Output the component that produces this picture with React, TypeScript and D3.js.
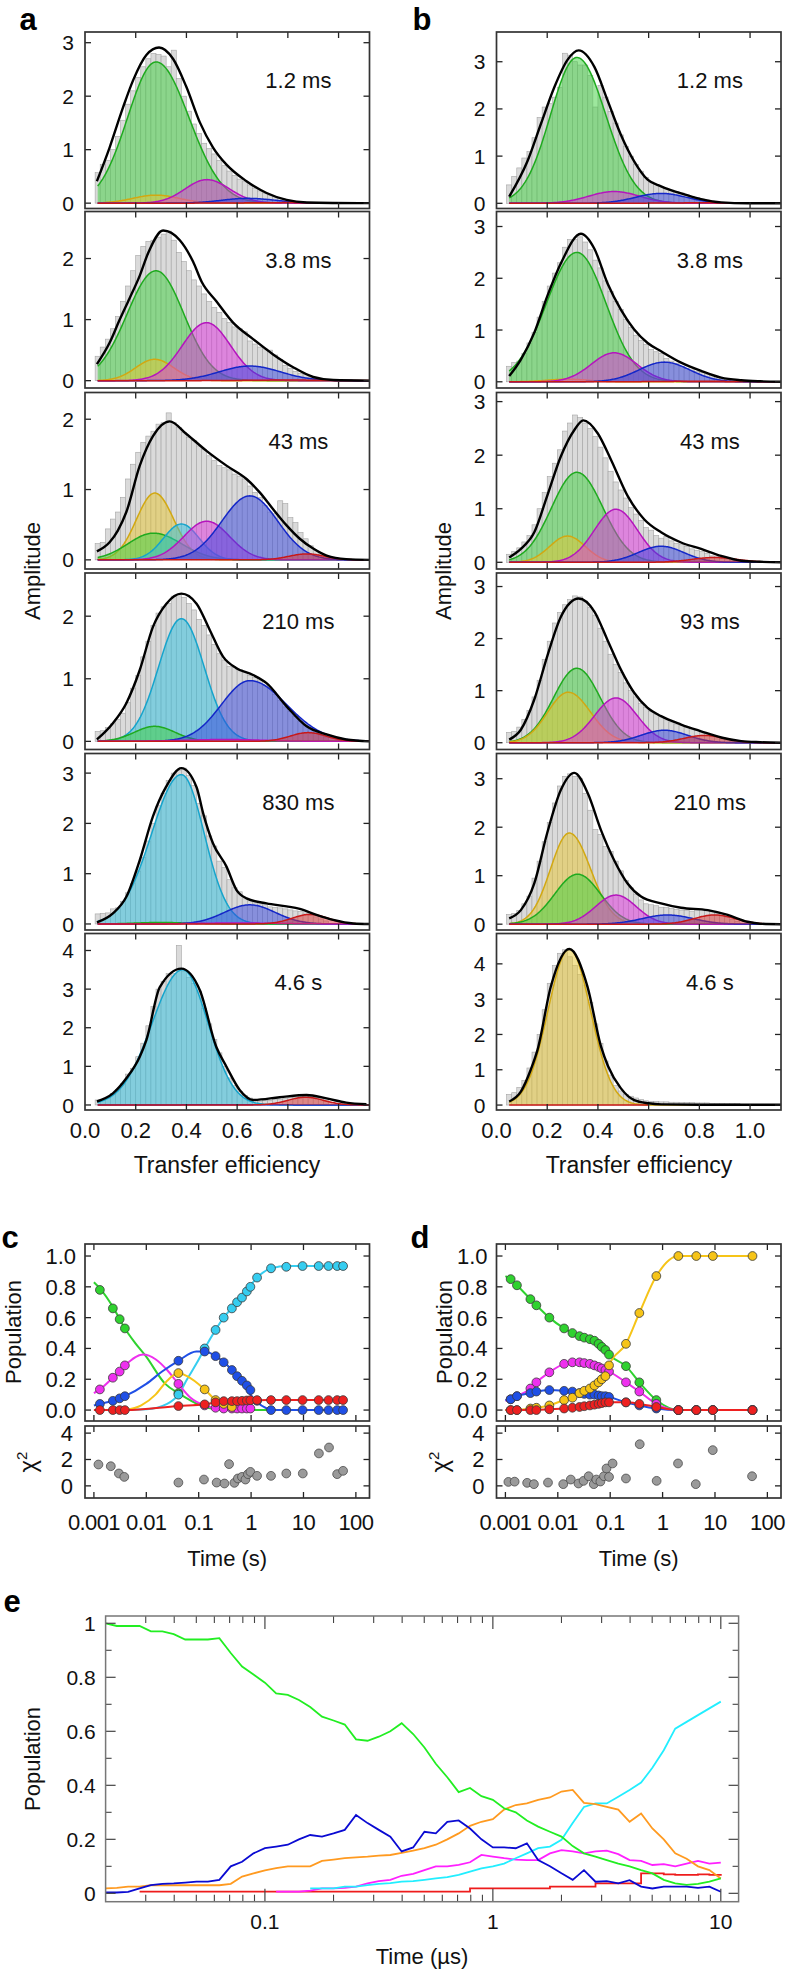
import React from "react";
import * as d3 from "d3";

const FONT = "'Liberation Sans', Arial, Helvetica, sans-serif";

// ================= Panels a & b : transfer-efficiency histograms =================
const binStart = 0.04;
const binWidth = 0.02;
const efficiencyTicks = [0, 0.2, 0.4, 0.6, 0.8, 1.0];
const efficiencyMax = 1.122;

const timeLabelsA = ["1.2 ms", "3.8 ms", "43 ms", "210 ms", "830 ms", "4.6 s"];
const timeLabelsB = ["1.2 ms", "3.8 ms", "43 ms", "93 ms", "210 ms", "4.6 s"];

const yRangeA = [[-0.1, 3.2], [-0.12, 2.77], [-0.13, 2.38], [-0.13, 2.69], [-0.12, 3.39], [-0.13, 4.44]];
const yRangeB = [[-0.11, 3.63], [-0.12, 3.29], [-0.125, 3.17], [-0.13, 3.26], [-0.12, 3.52], [-0.14, 4.86]];
const yTicksA = [[0, 1, 2, 3], [0, 1, 2], [0, 1, 2], [0, 1, 2], [0, 1, 2, 3], [0, 1, 2, 3, 4]];
const yTicksB = [[0, 1, 2, 3], [0, 1, 2, 3], [0, 1, 2, 3], [0, 1, 2, 3], [0, 1, 2, 3], [0, 1, 2, 3, 4]];

// histogram bar heights, bins of 0.02 starting at E = 0.04
const histA1 = [0.57,0.72,0.8,1.0,1.25,1.55,1.85,2.1,2.35,2.55, 2.7,2.8,2.78,2.75,2.55,2.86,2.33,2.0,1.72,1.48, 1.3,1.12,1.02,0.92,0.8,0.7,0.6,0.52,0.45,0.4, 0.34,0.28,0.23,0.19,0.15,0.12,0.09,0.07,0.05,0.03, 0.02,0.01,0.01,0,0,0];
const histA2 = [0.4,0.55,0.68,0.85,1.05,1.3,1.55,1.8,2.05,2.2, 2.28,2.3,2.35,2.4,2.45,2.3,2.1,1.95,1.8,1.65, 1.55,1.42,1.3,1.2,1.12,1.02,0.95,0.88,0.85,0.8, 0.65,0.6,0.55,0.52,0.5,0.42,0.35,0.25,0.2,0.15, 0.12,0.1,0.06,0.04,0.02,0.01];
const histA3 = [0.23,0.25,0.44,0.58,0.68,0.89,1.15,1.36,1.53,1.67, 1.76,1.83,1.93,1.95,2.09,1.95,1.88,1.81,1.74,1.7, 1.62,1.57,1.48,1.41,1.34,1.31,1.28,1.22,1.19,1.15, 1.05,0.96,0.89,0.77,0.68,0.66,0.84,0.8,0.6,0.53, 0.39,0.3,0.2,0.13,0.07,0.04];
const histA4 = [0.16,0.17,0.22,0.28,0.35,0.45,0.62,0.85,1.05,1.35, 1.6,1.85,2.05,2.15,2.2,2.32,2.35,2.3,2.2,2.1, 1.95,1.85,1.7,1.55,1.4,1.3,1.2,1.18,1.15,1.1, 1.05,1.02,0.98,0.9,0.85,0.75,0.65,0.55,0.48,0.4, 0.32,0.25,0.2,0.14,0.1,0.06];
const histA5 = [0.2,0.21,0.22,0.3,0.32,0.45,0.62,0.8,1.05,1.32, 1.65,2.0,2.35,2.6,2.85,3.0,3.05,3.1,2.95,2.75, 2.4,2.15,1.75,1.55,1.25,1.12,0.88,0.72,0.64,0.5, 0.46,0.42,0.4,0.38,0.34,0.33,0.32,0.3,0.28,0.26, 0.25,0.22,0.18,0.14,0.1,0.06];
const histA6 = [0.13,0.14,0.2,0.3,0.4,0.55,0.8,0.95,1.25,1.6, 2.05,2.55,3.0,3.2,3.4,3.4,4.13,3.45,3.3,3.15, 2.95,2.5,2.1,1.7,1.35,1.0,0.7,0.5,0.35,0.25, 0.18,0.12,0.1,0.12,0.12,0.14,0.15,0.17,0.19,0.2, 0.22,0.23,0.22,0.2,0.17,0.13];
const histB1 = [0.39,0.57,0.75,0.96,1.1,1.39,1.82,2.04,2.11,2.25, 2.46,3.18,3.14,3.0,2.93,2.93,2.71,2.04,2.5,2.25, 1.95,1.7,1.45,1.2,1.0,0.82,0.68,0.55,0.45,0.4, 0.36,0.32,0.28,0.25,0.22,0.18,0.15,0.12,0.09,0.07, 0.05,0.03,0.02,0.01,0.01,0];
const histB2 = [0.3,0.37,0.4,0.55,0.75,0.95,1.25,1.55,1.85,2.1, 2.3,2.6,2.75,2.75,2.8,2.7,2.55,2.35,2.2,1.95, 1.75,1.55,1.4,1.2,1.05,0.9,0.8,0.72,0.62,0.58, 0.55,0.45,0.4,0.36,0.3,0.26,0.23,0.2,0.18,0.15, 0.12,0.1,0.07,0.05,0.03,0.02];
const histB3 = [0.15,0.2,0.27,0.38,0.5,0.7,1.0,1.3,1.6,1.85, 2.1,2.45,2.6,2.75,2.7,2.6,2.5,2.35,2.15,1.95, 1.7,1.5,1.35,1.2,1.02,0.9,0.78,0.65,0.6,0.5, 0.45,0.48,0.4,0.35,0.34,0.3,0.25,0.22,0.2,0.17, 0.12,0.1,0.07,0.05,0.03,0.02];
const histB4 = [0.2,0.22,0.3,0.45,0.62,0.88,1.2,1.6,1.95,2.3, 2.5,2.65,2.75,2.82,2.8,2.72,2.6,2.45,2.2,1.95, 1.7,1.5,1.35,1.15,1.0,0.88,0.75,0.68,0.6,0.55, 0.5,0.44,0.4,0.36,0.33,0.3,0.27,0.24,0.21,0.17, 0.13,0.1,0.07,0.05,0.03,0.02];
const histB5 = [0.2,0.22,0.28,0.42,0.58,0.95,1.3,1.7,2.1,2.5, 2.85,3.05,3.1,3.05,3.0,2.7,2.35,1.95,1.85,1.6, 1.5,1.3,1.1,0.9,0.75,0.62,0.5,0.42,0.4,0.38, 0.35,0.34,0.32,0.3,0.29,0.28,0.27,0.28,0.3,0.28, 0.26,0.22,0.18,0.14,0.1,0.06];
const histB6 = [0.3,0.35,0.5,0.7,1.05,1.5,2.0,2.7,3.45,3.95, 4.3,4.4,4.2,3.95,3.7,3.4,2.9,2.3,1.75,1.25, 0.85,0.55,0.4,0.3,0.25,0.2,0.16,0.12,0.1,0.1, 0.09,0.09,0.08,0.08,0.07,0.07,0.07,0.06,0.06,0.06, 0.05,0.05,0.05,0.04,0.04,0.04];

// total fit (black), read as [E, amplitude]
const fitA1 = [[0.047,0.41],[0.097,1.04],[0.15,1.79],[0.19,2.3],[0.242,2.77],[0.292,2.91],[0.347,2.7],[0.4,2.17],[0.453,1.51],[0.505,1.04],[0.558,0.72],[0.637,0.41],[0.716,0.19],[0.795,0.06],[0.874,0.013],[1.122,0]];
const fitA2 = [[0.047,0.27],[0.097,0.62],[0.137,1.0],[0.176,1.35],[0.216,1.72],[0.25,2.1],[0.308,2.46],[0.374,2.3],[0.426,1.95],[0.46,1.62],[0.518,1.3],[0.584,0.95],[0.663,0.68],[0.742,0.43],[0.821,0.22],[0.9,0.06],[0.979,0.01],[1.122,0]];
const fitA3 = [[0.047,0.12],[0.097,0.25],[0.13,0.42],[0.163,0.68],[0.216,1.34],[0.268,1.76],[0.334,1.97],[0.4,1.79],[0.479,1.55],[0.558,1.34],[0.637,1.15],[0.689,0.96],[0.742,0.72],[0.795,0.49],[0.847,0.3],[0.9,0.16],[0.953,0.06],[1.03,0.01],[1.122,0]];
const fitA4 = [[0.047,0.03],[0.11,0.29],[0.163,0.61],[0.216,1.14],[0.268,1.83],[0.321,2.2],[0.38,2.36],[0.44,2.2],[0.492,1.78],[0.545,1.35],[0.597,1.17],[0.663,1.06],[0.716,0.93],[0.795,0.56],[0.874,0.24],[0.953,0.11],[1.03,0.03],[1.122,0]];
const fitA5 = [[0.047,0.03],[0.11,0.21],[0.163,0.54],[0.216,1.27],[0.268,2.14],[0.32,2.73],[0.38,3.1],[0.44,2.72],[0.466,2.2],[0.505,1.6],[0.558,1.14],[0.597,0.68],[0.637,0.51],[0.716,0.41],[0.795,0.35],[0.847,0.3],[0.913,0.18],[0.979,0.08],[1.058,0.01],[1.122,0]];
const fitA6 = [[0.047,0.09],[0.11,0.3],[0.163,0.69],[0.216,1.25],[0.242,1.68],[0.295,3.05],[0.38,3.53],[0.453,2.97],[0.518,1.5],[0.558,0.99],[0.61,0.39],[0.663,0.13],[0.768,0.2],[0.874,0.26],[0.953,0.17],[1.03,0.06],[1.11,0.02]];
const fitB1 = [[0.05,0.14],[0.122,0.89],[0.175,1.68],[0.228,2.46],[0.28,3.04],[0.324,3.24],[0.386,2.89],[0.438,2.18],[0.49,1.46],[0.543,0.89],[0.596,0.5],[0.649,0.36],[0.728,0.21],[0.807,0.09],[0.886,0.02],[0.99,0],[1.122,0]];
const fitB2 = [[0.05,0.11],[0.096,0.43],[0.149,0.95],[0.2,1.65],[0.254,2.29],[0.333,2.86],[0.386,2.57],[0.438,1.9],[0.491,1.39],[0.543,1.01],[0.596,0.75],[0.649,0.59],[0.728,0.37],[0.807,0.21],[0.886,0.08],[0.965,0.03],[1.04,0.01],[1.122,0]];
const fitB3 = [[0.05,0.09],[0.096,0.25],[0.149,0.56],[0.2,1.24],[0.254,1.98],[0.307,2.47],[0.342,2.65],[0.399,2.41],[0.451,1.92],[0.517,1.24],[0.583,0.8],[0.649,0.56],[0.728,0.37],[0.807,0.25],[0.886,0.12],[0.965,0.03],[1.04,0.01],[1.122,0]];
const fitB4 = [[0.05,0.06],[0.096,0.25],[0.149,0.83],[0.2,1.66],[0.254,2.42],[0.324,2.77],[0.386,2.52],[0.438,1.97],[0.491,1.4],[0.543,0.96],[0.596,0.67],[0.649,0.51],[0.728,0.35],[0.807,0.22],[0.886,0.1],[0.965,0.03],[1.04,0.01],[1.122,0]];
const fitB5 = [[0.05,0.12],[0.096,0.29],[0.149,0.84],[0.2,1.88],[0.254,2.77],[0.307,3.12],[0.36,2.7],[0.412,1.94],[0.464,1.32],[0.517,0.84],[0.57,0.57],[0.649,0.43],[0.728,0.34],[0.833,0.29],[0.912,0.19],[0.99,0.05],[1.04,0.01],[1.122,0]];
const fitB6 = [[0.05,0.1],[0.096,0.38],[0.135,1.0],[0.162,1.57],[0.214,3.35],[0.287,4.42],[0.359,3.35],[0.412,1.66],[0.44,1.1],[0.49,0.48],[0.543,0.14],[0.6,0.05],[0.65,0.02],[0.8,0.01],[1.122,0.01]];

// fitted components: [state, peak amplitude, peak E, width left, width right, (last E)]
const compsA1 = [["green",2.64,0.28,0.112,0.13],["yellow",0.15,0.28,0.09,0.09],["magenta",0.44,0.48,0.085,0.09],["blue",0.09,0.64,0.1,0.11],["red",0.01,0.8,0.15,0.15]];
const compsA2 = [["green",1.8,0.28,0.114,0.11],["yellow",0.35,0.275,0.075,0.075],["magenta",0.95,0.479,0.095,0.095],["blue",0.24,0.65,0.12,0.12],["red",0.01,0.8,0.15,0.15]];
const compsA3 = [["yellow",0.95,0.275,0.072,0.075],["green",0.38,0.27,0.1,0.11],["cyan",0.51,0.38,0.07,0.07],["magenta",0.55,0.48,0.09,0.09],["blue",0.91,0.65,0.11,0.11],["red",0.085,0.875,0.07,0.07]];
const compsA4 = [["cyan",1.96,0.38,0.09,0.09],["green",0.24,0.275,0.08,0.08],["blue",0.97,0.65,0.112,0.145],["magenta",0.03,0.55,0.15,0.15],["red",0.14,0.88,0.07,0.07]];
const compsA5 = [["cyan",2.97,0.38,0.117,0.09],["green",0.03,0.3,0.1,0.1],["blue",0.38,0.65,0.1,0.1],["magenta",0.02,0.6,0.15,0.15],["red",0.19,0.887,0.07,0.07]];
const compsA6 = [["cyan",3.5,0.385,0.12,0.1],["blue",0.005,0.6,0.2,0.2],["red",0.2,0.87,0.07,0.07]];
const compsB1 = [["green",3.09,0.317,0.104,0.114],["magenta",0.25,0.464,0.1,0.1],["blue",0.21,0.649,0.1,0.1],["red",0.01,0.8,0.15,0.15]];
const compsB2 = [["green",2.5,0.317,0.12,0.115],["yellow",0.05,0.28,0.08,0.08],["magenta",0.56,0.464,0.09,0.09],["blue",0.38,0.662,0.1,0.1],["red",0.01,0.8,0.15,0.15]];
const compsB3 = [["green",1.68,0.317,0.1,0.103],["yellow",0.49,0.28,0.07,0.07],["magenta",0.99,0.471,0.085,0.085],["blue",0.3,0.649,0.09,0.09],["red",0.09,0.86,0.09,0.09]];
const compsB4 = [["green",1.43,0.317,0.092,0.092],["yellow",0.97,0.283,0.081,0.088],["magenta",0.86,0.471,0.084,0.084],["blue",0.24,0.662,0.09,0.09],["red",0.14,0.82,0.08,0.08]];
const compsB5 = [["yellow",1.88,0.287,0.074,0.084],["green",1.03,0.32,0.09,0.09],["magenta",0.6,0.471,0.08,0.08],["blue",0.19,0.675,0.1,0.1],["red",0.19,0.86,0.08,0.08]];
const compsB6 = [["yellow",4.42,0.287,0.084,0.084],["red",0.0,0.3,0.3,0.3,0.6]];

// ================= Panels c & d : populations vs time =================
const timeTicks = [0.001, 0.01, 0.1, 1, 10, 100];
const timeTickLabels = ["0.001", "0.01", "0.1", "1", "10", "100"];
const popTicks = [0, 0.2, 0.4, 0.6, 0.8, 1.0];
const chiTicks = [0, 2, 4];

const tC = [0.0013,0.0023,0.0031,0.0039,0.041,0.13,0.21,0.3,0.43,0.54,0.67,0.83,0.97,1.3,2.4,4.7,9.6,19.5,30,44,57];
const cGreen = [0.78,0.66,0.59,0.53,0.11,null,null,null,null,null,null,null,null,null,null,null,null,null,null,null,null];
const cMagenta = [0.134,0.21,0.25,0.29,0.17,0.03,0.015,0.01,0.01,0.01,0.01,0.01,0.01,null,null,null,null,null,null,null,null];
const cYellow = [null,null,null,null,0.24,0.134,0.065,0.04,0.02,null,null,null,null,null,null,null,null,null,null,null,null];
const cCyan = [null,null,null,null,0.1,0.4,0.52,0.6,0.66,0.7,0.73,0.77,0.8,0.86,0.92,0.93,0.935,0.935,0.935,0.935,0.935];
const cBlue = [0.04,0.06,0.076,0.09,0.32,0.38,0.35,0.31,0.26,0.22,0.19,0.16,0.13,0.06,0,0,0,0,0,0,0];
const cRed = [0,0,0,0,0.026,0.037,0.05,0.058,0.058,0.058,0.06,0.062,0.064,0.065,0.065,0.065,0.065,0.065,0.065,0.065,0.065];

// fitted kinetic curves for c: [time (s), population]
const cFitGreen = [[0.001,0.83],[0.0013,0.79],[0.0023,0.67],[0.0039,0.53],[0.006,0.44],[0.0098,0.35],[0.023,0.17],[0.041,0.11],[0.11,0.03],[0.22,0.005],[0.5,0],[57,0]];
const cFitMagenta = [[0.001,0.11],[0.0013,0.134],[0.0023,0.21],[0.0039,0.29],[0.0087,0.36],[0.015,0.33],[0.025,0.26],[0.041,0.17],[0.07,0.08],[0.13,0.03],[0.25,0.012],[0.5,0.01],[1,0.01]];
const cFitYellow = [[0.004,0],[0.008,0.03],[0.015,0.1],[0.025,0.19],[0.041,0.24],[0.06,0.22],[0.13,0.134],[0.21,0.065],[0.3,0.035],[0.5,0.01],[0.8,0]];
const cFitCyan = [[0.003,0],[0.01,0.005],[0.025,0.04],[0.041,0.1],[0.06,0.2],[0.09,0.3],[0.13,0.4],[0.3,0.6],[0.67,0.73],[1.3,0.86],[2.4,0.92],[5,0.935],[57,0.935]];
const cFitBlue = [[0.001,0.03],[0.0013,0.04],[0.0023,0.06],[0.0039,0.09],[0.01,0.17],[0.02,0.25],[0.041,0.32],[0.09,0.38],[0.13,0.38],[0.21,0.35],[0.43,0.26],[0.83,0.13],[1.3,0.05],[2,0.01],[2.4,0],[57,0]];
const cFitRed = [[0.001,0],[0.004,0],[0.041,0.026],[0.13,0.037],[0.3,0.056],[1,0.062],[2,0.065],[57,0.065]];

const chiTimeC = [0.00122,0.0021,0.003,0.0038,0.041,0.126,0.22,0.31,0.38,0.48,0.56,0.67,0.78,0.87,0.97,1.3,2.4,4.7,9.7,19.7,30.7,43.9,57];
const chiC = [1.62,1.49,0.94,0.68,0.25,0.48,0.25,0.18,1.65,0.23,0.56,0.68,0.48,0.89,1.06,0.76,0.76,0.94,0.94,2.46,2.91,0.89,1.14];

const tD = [0.00126,0.00166,0.003,0.0039,0.0069,0.0132,0.019,0.026,0.032,0.041,0.05,0.06,0.069,0.081,0.095,0.2,0.36,0.76,2.0,4.4,9.1,52];
const dGreen = [0.85,0.81,0.72,0.68,0.6,0.53,0.5,0.48,0.47,0.46,0.45,0.43,0.41,0.39,0.36,0.285,0.18,0.065,0,0,0,0];
const dMagenta = [0.07,0.09,0.14,0.18,0.245,0.3,0.31,0.31,0.305,0.3,0.29,0.28,0.27,0.26,0.25,0.18,0.12,0.04,0,0,0,0];
const dBlue = [0.07,0.09,0.11,0.12,0.13,0.125,0.12,0.11,0.105,0.1,0.1,0.095,0.09,0.09,0.085,0.05,0.03,0.01,0,0,0,0];
const dYellow = [0,0,0.01,0.015,0.03,0.065,0.08,0.11,0.125,0.14,0.16,0.18,0.2,0.22,0.29,0.43,0.63,0.87,1,1,1,1];
const dRed = [0,0,0,0,0.005,0.01,0.015,0.02,0.025,0.03,0.035,0.04,0.045,0.05,0.05,0.05,0.04,0.02,0,0,0,0];
// fitted curves of d start at t = 1 ms with these populations
const dFitStart = { green: 0.87, magenta: 0.06, blue: 0.065, yellow: 0, red: 0 };

const chiTimeD = [0.00114,0.0015,0.0026,0.0035,0.0065,0.0127,0.0177,0.0248,0.031,0.0388,0.0486,0.0543,0.065,0.076,0.085,0.095,0.111,0.2,0.366,0.77,1.97,4.3,9.06,51];
const chiD = [0.3,0.32,0.23,0.13,0.25,0.13,0.48,0.18,0.38,0.73,0.13,0.48,0.33,0.73,1.32,0.68,1.7,0.56,3.16,0.38,1.7,0.13,2.71,0.73];

// ================= Panel e : simulated populations (time in µs) =================
const eTime = [0.02,0.0224,0.0251,0.0282,0.0316,0.0355,0.0398,0.0447,0.0501,0.0562,0.0631,0.0708,0.0794,0.0891,0.1,0.112,0.126,0.141,0.158,0.178,0.2,0.224,0.251,0.282,0.316,0.355,0.398,0.447,0.501,0.562,0.631,0.708,0.794,0.891,1,1.12,1.26,1.41,1.58,1.78,2,2.24,2.51,2.82,3.16,3.55,3.98,4.47,5.01,5.62,6.31,7.08,7.94,8.91,10];
const eGreen = [1.0,0.99,0.99,0.99,0.97,0.97,0.96,0.94,0.94,0.94, 0.945,0.89,0.84,0.81,0.78,0.74,0.735,0.716,0.69,0.654, 0.64,0.625,0.57,0.565,0.58,0.6,0.63,0.59,0.54,0.48, 0.43,0.375,0.39,0.36,0.346,0.315,0.3,0.27,0.247,0.228, 0.21,0.175,0.148,0.136,0.123,0.11,0.1,0.086,0.074,0.05, 0.037,0.031,0.035,0.043,0.055];
const eOrange = [0.018,0.02,0.025,0.025,0.03,0.03,0.03,0.03,0.03,0.03, 0.03,0.035,0.062,0.074,0.085,0.093,0.1,0.1,0.1,0.12, 0.125,0.13,0.133,0.136,0.14,0.142,0.15,0.158,0.167,0.18, 0.2,0.222,0.25,0.265,0.275,0.31,0.327,0.333,0.346,0.355, 0.377,0.383,0.335,0.33,0.32,0.31,0.265,0.296,0.24,0.2, 0.148,0.128,0.1,0.086,0.055];
const eBlue = [0.003,0.003,0.005,0.018,0.03,0.035,0.037,0.04,0.043,0.043, 0.05,0.1,0.117,0.148,0.167,0.173,0.18,0.2,0.216,0.21, 0.222,0.235,0.29,0.26,0.235,0.21,0.155,0.17,0.228,0.222, 0.265,0.27,0.24,0.2,0.17,0.17,0.167,0.185,0.123,0.1, 0.074,0.05,0.086,0.043,0.045,0.037,0.049,0.025,0.018,0.025, 0.025,0.025,0.02,0.025,0.006];
const eMagenta = [null,null,null,null,null,null,null,null,null,null, null,null,null,null,null,0.006,0.006,0.006,0.01,0.018, 0.018,0.02,0.025,0.037,0.045,0.05,0.065,0.072,0.086,0.1, 0.1,0.105,0.115,0.142,0.136,0.13,0.125,0.123,0.123,0.148, 0.16,0.155,0.148,0.155,0.158,0.145,0.123,0.12,0.105,0.108, 0.1,0.11,0.12,0.11,0.114];
const eCyan = [null,null,null,null,null,null,null,null,null,null, null,null,null,null,null,null,null,null,0.018,0.018, 0.018,0.025,0.025,0.03,0.035,0.038,0.043,0.045,0.05,0.055, 0.06,0.068,0.08,0.092,0.1,0.11,0.13,0.148,0.167,0.173, 0.198,0.26,0.32,0.333,0.333,0.358,0.383,0.41,0.465,0.53, 0.61,0.635,0.66,0.685,0.71];
const eRed = [null,null,null,0.006,0.006,0.006,0.006,0.006,0.006,0.006, 0.006,0.006,0.006,0.006,0.006,0.006,0.006,0.006,0.006,0.006, 0.006,0.006,0.006,0.006,0.006,0.006,0.006,0.006,0.006,0.006, 0.006,0.006,0.018,0.018,0.018,0.018,0.018,0.018,0.018,0.025, 0.025,0.025,0.025,0.037,0.037,0.037,0.037,0.074,0.074,0.07, 0.068,0.068,0.07,0.068,0.065];
const eTicksMajor = [0.1, 1, 10];
const eTicksMinor = [0.03,0.04,0.05,0.06,0.07,0.08,0.09,0.2,0.3,0.4,0.5,0.6,0.7,0.8,0.9,2,3,4,5,6,7,8,9];
const eYTicks = [0, 0.2, 0.4, 0.6, 0.8, 1];
const eYTickLabels = ["0", "0.2", "0.4", "0.6", "0.8", "1"];
const eYMinor = [0.1, 0.3, 0.5, 0.7, 0.9];

// ================= styles =================
const compStyle = {
  green: { fill: "#3ccf3c", stroke: "#1faa1f" },
  yellow: { fill: "#e8c530", stroke: "#d2a812" },
  cyan: { fill: "#2bbfe0", stroke: "#16a4cc" },
  magenta: { fill: "#e030e0", stroke: "#b515bd" },
  blue: { fill: "#3344dd", stroke: "#1427c8" },
  red: { fill: "#dd3333", stroke: "#c81818" },
};
const kinColor = {
  green: "#2fd22f",
  magenta: "#ee30ee",
  yellow: "#f6c418",
  cyan: "#36cdf0",
  blue: "#1f4fe6",
  red: "#ee2020",
};
const eColor = {
  green: "#22ee22",
  orange: "#ff9a20",
  blue: "#0a0ad2",
  magenta: "#ff20ff",
  cyan: "#22eeff",
  red: "#ee1c1c",
};

function compValue(c, e) {
  const a = c[1], mu = c[2], sL = c[3], sR = c[4];
  const s = e < mu ? sL : sR;
  return a * Math.exp(-((e - mu) * (e - mu)) / (2 * s * s));
}

function HistPanel({ p, x0, y0, w, h, showX, id }) {
  const xs = d3.scaleLinear().domain([0, efficiencyMax]).range([x0, x0 + w]);
  const ys = d3.scaleLinear().domain(p.yDom).range([y0 + h, y0]);
  const grid = d3.range(0.05, efficiencyMax + 0.0001, 0.004);
  const fitLine = d3.line().x((d) => xs(d[0])).y((d) => ys(d[1])).curve(d3.curveMonotoneX);
  const tick = 6;
  return (
    <g>
      <defs>
        <clipPath id={id}>
          <rect x={x0} y={y0} width={w} height={h} />
        </clipPath>
      </defs>
      <g clipPath={`url(#${id})`}>
        {p.hist.map((v, i) => {
          const e0 = binStart + i * binWidth;
          return (
            <rect key={i} x={xs(e0)} width={xs(e0 + binWidth) - xs(e0)} y={ys(v)} height={Math.max(0, ys(0) - ys(v))}
              fill="#dadada" stroke="#a4a4a4" strokeWidth={0.6} />
          );
        })}
        {p.comps.map((c, k) => {
          const pts = grid.filter((e) => c[5] === undefined || e <= c[5]);
          const area = d3.area().x((e) => xs(e)).y0(ys(0)).y1((e) => ys(compValue(c, e)));
          const line = d3.line().x((e) => xs(e)).y((e) => ys(compValue(c, e)));
          const st = compStyle[c[0]];
          return (
            <g key={k}>
              <path d={area(pts)} fill={st.fill} fillOpacity={0.5} />
              <path d={line(pts)} fill="none" stroke={st.stroke} strokeWidth={1.5} />
            </g>
          );
        })}
        <path d={fitLine(p.fit)} fill="none" stroke="#000" strokeWidth={2.4} />
      </g>
      {efficiencyTicks.slice(1).map((t) => (
        <g key={t}>
          <line x1={xs(t)} x2={xs(t)} y1={y0} y2={y0 + tick} stroke="#222" strokeWidth={1.3} />
          <line x1={xs(t)} x2={xs(t)} y1={y0 + h} y2={y0 + h - tick} stroke="#222" strokeWidth={1.3} />
        </g>
      ))}
      {p.yTicks.map((t) => (
        <g key={t}>
          <line x1={x0} x2={x0 + tick} y1={ys(t)} y2={ys(t)} stroke="#222" strokeWidth={1.3} />
          <line x1={x0 + w} x2={x0 + w - tick} y1={ys(t)} y2={ys(t)} stroke="#222" strokeWidth={1.3} />
          <text x={x0 - 11} y={ys(t)} dy="0.36em" textAnchor="end" fontSize={21} fontFamily={FONT} fill="#111">{t}</text>
        </g>
      ))}
      <rect x={x0} y={y0} width={w} height={h} fill="none" stroke="#333" strokeWidth={1.7} />
      <text x={x0 + 0.75 * w} y={y0 + 56} textAnchor="middle" fontSize={22} fontFamily={FONT} fill="#111">{p.label}</text>
      {showX && efficiencyTicks.map((t) => (
        <text key={t} x={xs(t)} y={y0 + h + 28} textAnchor="middle" fontSize={22} fontFamily={FONT} fill="#111">{t.toFixed(1)}</text>
      ))}
    </g>
  );
}

function buildPanels(labels, hists, fits, comps, yDoms, yTicks) {
  return labels.map((label, i) => ({ label, hist: hists[i], fit: fits[i], comps: comps[i], yDom: yDoms[i], yTicks: yTicks[i] }));
}

const panelsA = buildPanels(timeLabelsA, [histA1, histA2, histA3, histA4, histA5, histA6], [fitA1, fitA2, fitA3, fitA4, fitA5, fitA6], [compsA1, compsA2, compsA3, compsA4, compsA5, compsA6], yRangeA, yTicksA);
const panelsB = buildPanels(timeLabelsB, [histB1, histB2, histB3, histB4, histB5, histB6], [fitB1, fitB2, fitB3, fitB4, fitB5, fitB6], [compsB1, compsB2, compsB3, compsB4, compsB5, compsB6], yRangeB, yTicksB);

const seriesC = [
  { key: "green", dots: cGreen, fit: cFitGreen },
  { key: "cyan", dots: cCyan, fit: cFitCyan },
  { key: "magenta", dots: cMagenta, fit: cFitMagenta },
  { key: "yellow", dots: cYellow, fit: cFitYellow },
  { key: "blue", dots: cBlue, fit: cFitBlue },
  { key: "red", dots: cRed, fit: cFitRed },
];
const seriesD = [
  { key: "green", dots: dGreen },
  { key: "magenta", dots: dMagenta },
  { key: "blue", dots: dBlue },
  { key: "yellow", dots: dYellow },
  { key: "red", dots: dRed },
].map((s) => ({ ...s, fit: [[0.001, dFitStart[s.key]]].concat(tD.map((t, i) => [t, s.dots[i]])) }));

function KineticsPanel({ x0, w, times, series, chiT, chiV, id }) {
  const top = 1244, bot = 1421, cTop = 1426, cBot = 1498;
  const xs = d3.scaleLog().domain([Math.pow(10, -3.17), Math.pow(10, 2.26)]).range([x0, x0 + w]);
  const ys = d3.scaleLinear().domain([-0.071, 1.078]).range([bot, top]);
  const yc = d3.scaleLinear().domain([-0.92, 4.54]).range([cBot, cTop]);
  const line = d3.line().x((d) => xs(d[0])).y((d) => ys(d[1])).curve(d3.curveMonotoneX);
  const tick = 6;
  return (
    <g>
      <defs>
        <clipPath id={id}><rect x={x0} y={top} width={w} height={bot - top} /></clipPath>
      </defs>
      <g clipPath={`url(#${id})`}>
        {series.map((s) => (
          <path key={s.key} d={line(s.fit)} fill="none" stroke={kinColor[s.key]} strokeWidth={2} />
        ))}
        {series.map((s) => (
          <g key={s.key}>
            {s.dots.map((v, i) => v === null ? null : (
              <circle key={i} cx={xs(times[i])} cy={ys(v)} r={4.4} fill={kinColor[s.key]} stroke="#3a3a3a" strokeWidth={0.8} />
            ))}
          </g>
        ))}
      </g>
      {chiT.map((t, i) => (
        <circle key={i} cx={xs(t)} cy={yc(chiV[i])} r={4.4} fill="#9a9a9a" stroke="#4a4a4a" strokeWidth={0.8} />
      ))}
      {timeTicks.map((t) => (
        <g key={t}>
          <line x1={xs(t)} x2={xs(t)} y1={top} y2={top + tick} stroke="#222" strokeWidth={1.3} />
          <line x1={xs(t)} x2={xs(t)} y1={bot} y2={bot - tick} stroke="#222" strokeWidth={1.3} />
          <line x1={xs(t)} x2={xs(t)} y1={cTop} y2={cTop + tick} stroke="#222" strokeWidth={1.3} />
          <line x1={xs(t)} x2={xs(t)} y1={cBot} y2={cBot - tick} stroke="#222" strokeWidth={1.3} />
        </g>
      ))}
      {popTicks.map((t) => (
        <g key={t}>
          <line x1={x0} x2={x0 + tick} y1={ys(t)} y2={ys(t)} stroke="#222" strokeWidth={1.3} />
          <line x1={x0 + w} x2={x0 + w - tick} y1={ys(t)} y2={ys(t)} stroke="#222" strokeWidth={1.3} />
          <text x={x0 - 9} y={ys(t)} dy="0.36em" textAnchor="end" fontSize={22} fontFamily={FONT} fill="#111">{t.toFixed(1)}</text>
        </g>
      ))}
      {chiTicks.map((t) => (
        <g key={t}>
          <line x1={x0} x2={x0 + tick} y1={yc(t)} y2={yc(t)} stroke="#222" strokeWidth={1.3} />
          <line x1={x0 + w} x2={x0 + w - tick} y1={yc(t)} y2={yc(t)} stroke="#222" strokeWidth={1.3} />
          <text x={x0 - 12} y={yc(t)} dy="0.36em" textAnchor="end" fontSize={22} fontFamily={FONT} fill="#111">{t}</text>
        </g>
      ))}
      <rect x={x0} y={top} width={w} height={bot - top} fill="none" stroke="#333" strokeWidth={1.7} />
      <rect x={x0} y={cTop} width={w} height={cBot - cTop} fill="none" stroke="#333" strokeWidth={1.7} />
      {timeTicks.map((t, i) => (
        <text key={t} x={xs(t)} y={1530} textAnchor="middle" fontSize={22} fontFamily={FONT} fill="#111" letterSpacing={-0.6}>{timeTickLabels[i]}</text>
      ))}
      <text x={x0 + w / 2} y={1566} textAnchor="middle" fontSize={22} fontFamily={FONT} fill="#111">Time (s)</text>
    </g>
  );
}

function PanelE() {
  const x0 = 105.6, x1 = 738.6, top = 1616, bot = 1901.7;
  const xs = d3.scaleLog().domain([0.02, 11.97]).range([x0, x1]);
  const ys = d3.scaleLinear().domain([-0.031, 1.027]).range([bot, top]);
  const mk = (curve) => d3.line().defined((d) => d[1] !== null).x((d) => xs(d[0])).y((d) => ys(d[1])).curve(curve);
  const series = [
    { key: "red", v: eRed, curve: d3.curveStepAfter },
    { key: "magenta", v: eMagenta, curve: d3.curveLinear },
    { key: "cyan", v: eCyan, curve: d3.curveLinear },
    { key: "orange", v: eOrange, curve: d3.curveLinear },
    { key: "green", v: eGreen, curve: d3.curveLinear },
    { key: "blue", v: eBlue, curve: d3.curveLinear },
  ];
  return (
    <g>
      <defs><clipPath id="clipE"><rect x={x0} y={top} width={x1 - x0} height={bot - top} /></clipPath></defs>
      <g clipPath="url(#clipE)">
        {series.map((s) => (
          <path key={s.key} d={mk(s.curve)(eTime.map((t, i) => [t, s.v[i]]))} fill="none" stroke={eColor[s.key]} strokeWidth={1.8} strokeLinejoin="miter" />
        ))}
      </g>
      {eTicksMajor.map((t) => (
        <g key={t}>
          <line x1={xs(t)} x2={xs(t)} y1={top} y2={top + 13} stroke="#444" strokeWidth={1.2} />
          <line x1={xs(t)} x2={xs(t)} y1={bot} y2={bot - 13} stroke="#444" strokeWidth={1.2} />
          <text x={xs(t)} y={1929} textAnchor="middle" fontSize={21} fontFamily={FONT} fill="#111">{t}</text>
        </g>
      ))}
      {eTicksMinor.map((t) => (
        <g key={t}>
          <line x1={xs(t)} x2={xs(t)} y1={top} y2={top + 7} stroke="#444" strokeWidth={1.1} />
          <line x1={xs(t)} x2={xs(t)} y1={bot} y2={bot - 7} stroke="#444" strokeWidth={1.1} />
        </g>
      ))}
      {eYTicks.map((t, i) => (
        <g key={t}>
          <line x1={x0} x2={x0 + 10} y1={ys(t)} y2={ys(t)} stroke="#444" strokeWidth={1.2} />
          <line x1={x1} x2={x1 - 10} y1={ys(t)} y2={ys(t)} stroke="#444" strokeWidth={1.2} />
          <text x={x0 - 10} y={ys(t)} dy="0.36em" textAnchor="end" fontSize={21} fontFamily={FONT} fill="#111">{eYTickLabels[i]}</text>
        </g>
      ))}
      {eYMinor.map((t) => (
        <g key={t}>
          <line x1={x0} x2={x0 + 6} y1={ys(t)} y2={ys(t)} stroke="#444" strokeWidth={1.1} />
          <line x1={x1} x2={x1 - 6} y1={ys(t)} y2={ys(t)} stroke="#444" strokeWidth={1.1} />
        </g>
      ))}
      <rect x={x0} y={top} width={x1 - x0} height={bot - top} fill="none" stroke="#777" strokeWidth={1.5} />
      <text x={422} y={1964} textAnchor="middle" fontSize={22} fontFamily={FONT} fill="#111">Time (µs)</text>
      <text transform="translate(40,1759) rotate(-90)" textAnchor="middle" fontSize={22} fontFamily={FONT} fill="#111">Population</text>
    </g>
  );
}

export default function App() {
  const tops = [32, 211.5, 392.5, 573, 753.5, 933.5];
  const h = 176.5;
  const w = 284.5;
  return (
    <svg width={788} height={1972} viewBox="0 0 788 1972" style={{ position: "absolute", left: 0, top: 0, background: "#fff" }}>
      <rect x={0} y={0} width={788} height={1972} fill="#fff" />
      {panelsA.map((p, i) => (
        <HistPanel key={"a" + i} p={p} x0={85} y0={tops[i]} w={w} h={h} showX={i === 5} id={"clipA" + i} />
      ))}
      {panelsB.map((p, i) => (
        <HistPanel key={"b" + i} p={p} x0={496.5} y0={tops[i]} w={w} h={h} showX={i === 5} id={"clipB" + i} />
      ))}
      <text x={28} y={30} textAnchor="middle" fontSize={31} fontWeight="bold" fontFamily={FONT}>a</text>
      <text x={422} y={30} textAnchor="middle" fontSize={31} fontWeight="bold" fontFamily={FONT}>b</text>
      <text transform="translate(40,571) rotate(-90)" textAnchor="middle" fontSize={22} fontFamily={FONT} fill="#111">Amplitude</text>
      <text transform="translate(451,571) rotate(-90)" textAnchor="middle" fontSize={22} fontFamily={FONT} fill="#111">Amplitude</text>
      <text x={227} y={1173} textAnchor="middle" fontSize={23} fontFamily={FONT} fill="#111">Transfer efficiency</text>
      <text x={639} y={1173} textAnchor="middle" fontSize={23} fontFamily={FONT} fill="#111">Transfer efficiency</text>

      <KineticsPanel x0={85} w={w} times={tC} series={seriesC} chiT={chiTimeC} chiV={chiC} id="clipC" />
      <KineticsPanel x0={496.5} w={w} times={tD} series={seriesD} chiT={chiTimeD} chiV={chiD} id="clipD" />
      <text x={10} y={1248} textAnchor="middle" fontSize={31} fontWeight="bold" fontFamily={FONT}>c</text>
      <text x={420} y={1248} textAnchor="middle" fontSize={31} fontWeight="bold" fontFamily={FONT}>d</text>
      <text transform="translate(21,1332) rotate(-90)" textAnchor="middle" fontSize={22} fontFamily={FONT} fill="#111">Population</text>
      <text transform="translate(452,1332) rotate(-90)" textAnchor="middle" fontSize={22} fontFamily={FONT} fill="#111">Population</text>
      <text transform="translate(36,1462) rotate(-90)" textAnchor="middle" fontSize={24} fontFamily={FONT} fill="#111">χ<tspan fontSize={15} dy={-9}>2</tspan></text>
      <text transform="translate(448,1462) rotate(-90)" textAnchor="middle" fontSize={24} fontFamily={FONT} fill="#111">χ<tspan fontSize={15} dy={-9}>2</tspan></text>

      <PanelE />
      <text x={12} y={1612} textAnchor="middle" fontSize={31} fontWeight="bold" fontFamily={FONT}>e</text>
    </svg>
  );
}
